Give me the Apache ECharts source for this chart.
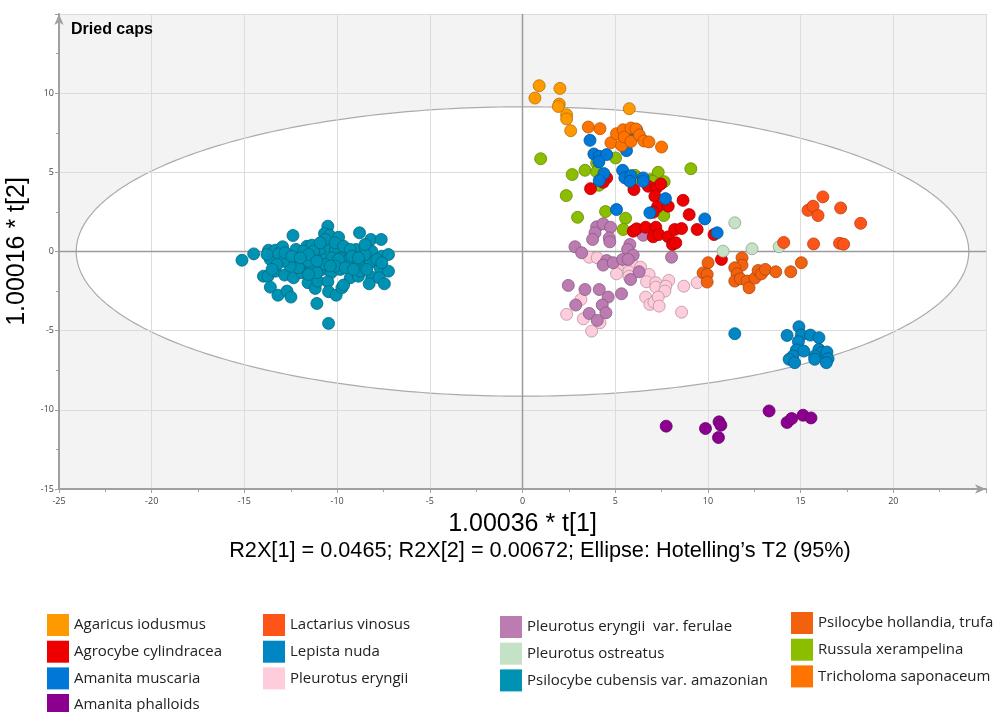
<!DOCTYPE html>
<html>
<head>
<meta charset="utf-8">
<script src="https://cdn.jsdelivr.net/npm/echarts@6/dist/echarts.min.js"></script>
<style>
  html, body { margin: 0; padding: 0; background: #ffffff; }
  #chart { width: 996px; height: 712px; }
</style>
</head>
<body>
<div id="chart"></div>
<script>
// PCA score plot, dried caps: t[1] vs t[2] per species

// Axis ranges and tick step
const xRange = [-25, 25];
const yRange = [-15, 15];
const tickStep = 5;

// Hotelling's T2 (95%) ellipse semi-axes
const ellipseA = 24.07;
const ellipseB = 9.14;

// Scores [t1, t2] per species
const agaricusIodusmus = [
  [0.9, 10.47], [2.02, 10.3], [0.67, 9.69], [1.98, 9.31], [1.93, 9.16],
  [2.38, 8.64], [2.38, 8.37], [2.6, 7.63], [5.76, 9.02]
];
const agrocybeCylindracea = [
  [3.67, 3.97], [4.54, 4.65], [4.35, 4.37], [6.01, 3.91], [6.78, 4.12], [7.23, 4.02],
  [7.46, 4.27], [7.14, 3.49], [8.66, 3.23], [7.28, 2.82], [7.86, 2.86], [7.05, 2.48],
  [8.99, 2.33], [9.42, 1.39], [10.33, 1.07], [5.97, 1.28], [6.15, 1.43], [6.64, 1.53],
  [7.19, 1.53], [7.05, 0.93], [7.35, 1.07], [7.86, 0.93], [8.09, 0.44], [8.27, 0.55],
  [8.21, 1.39], [8.58, 1.45], [10.73, -0.5]
];
const amanitaMuscaria = [
  [3.64, 7.02], [6.15, 7.69], [5.97, 7.27], [3.85, 6.16], [4.14, 6.01], [4.54, 6.12],
  [4.12, 5.66], [5.61, 6.37], [4.39, 4.92], [4.14, 4.48], [5.4, 5.13], [5.52, 4.65],
  [5.85, 4.79], [5.79, 4.43], [6.51, 4.65], [6.51, 4.43], [7.71, 3.34], [6.87, 2.44],
  [5.07, 2.65], [9.83, 2.06], [10.5, 1.18]
];
const amanitaPhalloids = [
  [7.75, -11.03], [9.87, -11.18], [10.6, -10.76], [10.7, -10.97], [10.57, -11.75],
  [13.3, -10.07], [14.27, -10.8], [14.52, -10.55], [15.13, -10.34], [15.56, -10.51]
];
const lactariusVinosus = [
  [15.4, 2.6], [15.67, 2.86], [15.94, 2.27], [16.2, 3.45], [17.16, 2.75], [18.24, 1.78],
  [14.09, 0.57], [15.7, 0.48], [17.1, 0.52], [17.32, 0.46]
];
const lepistaNuda = [
  [11.45, -5.19], [14.27, -5.3], [14.91, -4.75], [15.04, -5.28], [15.53, -5.28],
  [15.99, -5.44], [14.88, -5.69], [14.77, -6.22], [15.17, -6.29], [14.59, -6.6],
  [14.38, -6.81], [14.68, -7.02], [15.99, -6.18], [16.12, -6.39], [15.76, -6.6],
  [15.76, -6.81], [16.42, -6.35], [16.48, -6.77], [16.39, -7.02]
];
const pleurotusEryngii = [
  [3.6, -0.36], [4.03, -0.4], [5.07, -1.41], [5.47, -0.82], [5.7, -0.82], [5.94, -0.82],
  [5.74, -1.28], [5.74, -1.56], [6.37, -0.99], [6.83, -1.45], [6.69, -1.91], [7.19, -1.97],
  [7.19, -2.25], [7.89, -1.83], [7.73, -2.19], [7.68, -2.5], [8.7, -2.19], [9.42, -1.97],
  [6.64, -2.88], [6.87, -3.34], [7.09, -3.2], [7.32, -2.88], [7.37, -3.45], [8.58, -3.83],
  [3.15, -3.03], [2.38, -3.97], [3.28, -4.25], [4.18, -4.5], [3.73, -5.03]
];
const pleurotusFerulae = [
  [4.0, 1.56], [4.35, 1.75], [4.75, 1.53], [3.91, 1.18], [3.78, 0.76], [4.68, 0.86],
  [4.71, 0.61], [2.83, 0.3], [3.19, -0.08], [5.79, 0.44], [5.67, 0.13], [5.97, -0.23],
  [6.51, 1.03], [8.04, -0.36], [4.54, -0.57], [4.35, -0.86], [4.89, -0.71], [5.4, -0.5],
  [5.7, -0.5], [6.29, -1.28], [5.83, -1.77], [2.47, -2.14], [3.37, -2.4], [4.14, -2.4],
  [5.34, -2.67], [4.62, -2.88], [2.87, -3.38], [4.3, -3.38], [3.6, -3.91], [4.5, -3.87],
  [4.03, -4.35]
];
const pleurotusOstreatus = [
  [11.45, 1.81], [10.82, 0.02], [12.38, 0.17], [13.84, 0.3]
];
const psilocybeCubensis = [
  [-15.13, -0.55], [-14.5, -0.15], [-12.38, 1.01], [-10.5, 1.6], [-10.68, 1.13], [-10.41, 1.03],
  [-9.92, 0.9], [-8.79, 1.18], [-8.18, 0.76], [-7.62, 0.76], [-13.7, 0.08], [-13.33, 0.08],
  [-12.94, 0.3], [-13.6, -0.5], [-13.16, -0.15], [-12.62, -0.4], [-12.22, 0.13], [-11.63, 0.33],
  [-11.36, 0.4], [-10.82, 0.33], [-10.91, 0.02], [-10.37, 0.23], [-10.1, 0.02], [-9.56, -0.15],
  [-8.97, 0.13], [-8.49, 0.23], [-8.13, 0.02], [-7.59, -0.3], [-7.23, -0.19], [-12.35, -0.71],
  [-11.9, -0.82], [-11.45, -0.71], [-11.18, -0.4], [-10.64, -0.5], [-10.28, -0.4], [-9.83, -0.4],
  [-9.47, -0.61], [-9.12, -0.4], [-8.66, -0.5], [-8.22, -0.71], [-7.68, -1.03], [-7.23, -1.24],
  [-13.97, -1.56], [-13.73, -1.56], [-13.33, -1.24], [-12.83, -1.49], [-12.35, -1.66], [-11.9, -1.34],
  [-11.36, -0.92], [-10.82, -1.13], [-10.32, -1.34], [-9.83, -1.13], [-9.29, -1.66], [-8.85, -1.56],
  [-8.13, -1.62], [-7.73, -1.66], [-8.27, -2.04], [-7.45, -2.04], [-13.6, -2.25], [-13.19, -2.76],
  [-12.7, -2.5], [-12.49, -2.88], [-11.57, -1.97], [-11.18, -2.33], [-11.04, -1.87], [-10.5, -1.91],
  [-10.46, -2.54], [-10.05, -2.76], [-9.74, -2.29], [-9.65, -2.12], [-11.09, -3.28], [-10.46, -4.54],
  [-11.54, -0.61], [-11.81, 0.02], [-11.27, 0.02], [-10.64, 0.76], [-10.91, 0.55], [-9.92, -0.5],
  [-9.2, -0.71], [-8.85, -0.82], [-8.76, -1.24], [-10.1, -0.92], [-9.56, -1.03], [-10.64, -0.82],
  [-11.09, -1.34], [-11.54, -1.45], [-12.08, -1.03], [-12.53, -0.92], [-12.89, -0.61], [-13.24, -0.82],
  [-13.51, -1.13], [-13.78, -0.19], [-12.8, -0.08], [-12.44, -0.3], [-10.1, 0.55], [-9.65, 0.33],
  [-9.29, 0.13], [-9.2, -0.3], [-8.49, -0.19], [-7.86, -0.5], [-7.59, -0.71], [-8.4, -1.13],
  [-9.12, -1.13], [-11.54, -0.19], [-11.09, -0.61], [-11.99, -0.4], [-10.37, -0.92], [-8.49, 0.44],
  [-8.85, -0.4]
];
const psilocybeHollandia = [
  [10.01, -0.71], [9.74, -1.35], [9.96, -1.45], [9.96, -1.93], [11.84, -0.4], [11.84, -0.86],
  [11.45, -1.03], [11.57, -1.41], [11.45, -1.87], [11.75, -1.72], [12.11, -1.87], [12.22, -2.29],
  [12.54, -1.68], [12.71, -1.2], [12.89, -1.41], [13.1, -1.13], [13.66, -1.28], [14.47, -1.28],
  [15.04, -0.71]
];
const russulaXerampelina = [
  [0.98, 5.86], [2.68, 4.86], [3.37, 5.13], [4.0, 5.59], [4.0, 5.03], [4.12, 4.18],
  [5.02, 5.91], [2.36, 3.53], [2.97, 2.16], [4.48, 2.52], [5.56, 2.1], [5.43, 1.39],
  [6.06, 4.81], [6.15, 4.65], [6.92, 4.54], [7.32, 5.0], [7.02, 4.43], [7.64, 4.41],
  [9.08, 5.23], [7.62, 2.27]
];
const tricholomaSaponaceum = [
  [3.55, 7.86], [4.18, 7.76], [4.77, 6.87], [5.07, 7.44], [5.34, 6.7], [5.43, 7.69],
  [5.49, 7.23], [5.85, 7.8], [6.12, 7.74], [5.85, 6.95], [6.3, 7.36], [6.55, 6.98],
  [6.82, 6.92], [7.5, 6.6]
];

// Species names, as laid out in the legend blocks
const legendBlocks = [
  ['Agaricus iodusmus', 'Agrocybe cylindracea', 'Amanita muscaria'],
  ['Amanita phalloids'],
  ['Lactarius vinosus', 'Lepista nuda', 'Pleurotus eryngii'],
  ['Pleurotus eryngii  var. ferulae', 'Pleurotus ostreatus', 'Psilocybe cubensis var. amazonian'],
  ['Psilocybe hollandia, trufa', 'Russula xerampelina', 'Tricholoma saponaceum']
];
const legendLefts = [47, 47, 263, 500, 791];
const legendTops = [614, 694, 614, 616, 612];

// Series in drawing order (later ones on top)
const speciesSeries = [
  { name: 'Pleurotus eryngii', color: '#FFCCDC', data: pleurotusEryngii },
  { name: 'Pleurotus eryngii  var. ferulae', color: '#BC7CB2', data: pleurotusFerulae },
  { name: 'Russula xerampelina', color: '#8CBE00', data: russulaXerampelina },
  { name: 'Agrocybe cylindracea', color: '#EE0000', data: agrocybeCylindracea },
  { name: 'Amanita muscaria', color: '#0078D7', data: amanitaMuscaria },
  { name: 'Tricholoma saponaceum', color: '#FF7300', data: tricholomaSaponaceum },
  { name: 'Agaricus iodusmus', color: '#FF9900', data: agaricusIodusmus },
  { name: 'Pleurotus ostreatus', color: '#C6E2C6', data: pleurotusOstreatus },
  { name: 'Psilocybe hollandia, trufa', color: '#F2610E', data: psilocybeHollandia },
  { name: 'Lactarius vinosus', color: '#FF5418', data: lactariusVinosus },
  { name: 'Lepista nuda', color: '#0086C2', data: lepistaNuda },
  { name: 'Amanita phalloids', color: '#8C0090', data: amanitaPhalloids },
  { name: 'Psilocybe cubensis var. amazonian', color: '#0092B2', data: psilocybeCubensis }
];

function darker(hex, f) {
  const n = parseInt(hex.slice(1), 16);
  const r = Math.round(((n >> 16) & 255) * f);
  const g = Math.round(((n >> 8) & 255) * f);
  const b = Math.round((n & 255) * f);
  return 'rgb(' + r + ',' + g + ',' + b + ')';
}

const chart = echarts.init(document.getElementById('chart'));

// Grey plot background with the white confidence ellipse
const ellipseSeries = {
  type: 'custom',
  silent: true,
  z: 0,
  data: [[0, 0]],
  renderItem: function (params, api) {
    const tl = api.coord([xRange[0], yRange[1]]);
    const br = api.coord([xRange[1], yRange[0]]);
    const pts = [];
    for (let i = 0; i < 360; i++) {
      const t = i / 360 * Math.PI * 2;
      pts.push(api.coord([ellipseA * Math.cos(t), ellipseB * Math.sin(t)]));
    }
    return {
      type: 'group',
      children: [
        { type: 'rect', shape: { x: tl[0], y: tl[1], width: br[0] - tl[0], height: br[1] - tl[1] },
          style: { fill: '#F3F3F3' } },
        { type: 'polygon', shape: { points: pts },
          style: { fill: '#FFFFFF', stroke: '#ABABAB', lineWidth: 1.2 } }
      ]
    };
  }
};

// Zero lines through the origin
const zeroLineSeries = {
  type: 'custom',
  silent: true,
  z: 1.5,
  data: [[0, 0]],
  renderItem: function (params, api) {
    const a = api.coord([xRange[0], 0]), b = api.coord([xRange[1], 0]);
    const c = api.coord([0, yRange[0]]), d = api.coord([0, yRange[1]]);
    const st = { stroke: '#9A9A9A', lineWidth: 1.5 };
    return {
      type: 'group',
      children: [
        { type: 'line', shape: { x1: a[0], y1: a[1], x2: b[0], y2: b[1] }, style: st },
        { type: 'line', shape: { x1: c[0], y1: c[1], x2: d[0], y2: d[1] }, style: st }
      ]
    };
  }
};

const scatterSeries = speciesSeries.map(function (s) {
  return {
    type: 'scatter',
    name: s.name,
    data: s.data,
    symbol: 'circle',
    symbolSize: 12,
    z: 2,
    itemStyle: { color: s.color, borderColor: darker(s.color, 0.72), borderWidth: 0.8, opacity: 1 },
    emphasis: { disabled: true }
  };
});

const legends = legendBlocks.map(function (block, i) {
  return {
    data: block.map(function (n) { return { name: n, icon: 'rect' }; }),
    orient: 'vertical',
    left: legendLefts[i],
    top: legendTops[i],
    itemWidth: 22,
    itemHeight: 22,
    itemGap: 4.7,
    padding: 0,
    selectedMode: false,
    textStyle: { fontFamily: 'Open Sans', fontSize: 15, color: '#222222' },
    itemStyle: { borderWidth: 0 }
  };
});

const axisCommon = {
  type: 'value',
  interval: tickStep,
  splitNumber: 10,
  z: 1,
  axisLine: { onZero: false, show: true, symbol: ['none', 'arrow'], symbolSize: [7, 11],
              lineStyle: { color: '#A0A0A0', width: 2 } },
  axisTick: { show: true, length: 4, lineStyle: { color: '#A0A0A0' } },
  minorTick: { show: true, splitNumber: 2, length: 3, lineStyle: { color: '#A0A0A0' } },
  splitLine: { show: true, lineStyle: { color: '#DCDCDC', width: 1 } },
  axisLabel: { showMaxLabel: false, fontFamily: 'Open Sans', fontSize: 9, color: '#444444' }
};

chart.setOption({
  animation: false,
  backgroundColor: '#FFFFFF',
  grid: { left: 59, right: 10, top: 14, bottom: 223, show: false, outerBoundsMode: 'none', containLabel: false },
  title: {
    text: 'Dried caps',
    left: 66,
    top: 17,
    textStyle: { fontFamily: 'Liberation Sans', fontSize: 16, fontWeight: 'bold', color: '#000000' }
  },
  legend: legends,
  xAxis: Object.assign({}, axisCommon, {
    min: xRange[0], max: xRange[1],
    name: '1.00036 * t[1]',
    nameLocation: 'middle',
    nameGap: 23,
    nameTextStyle: { fontFamily: 'Liberation Sans', fontSize: 25, color: '#000000' },
    axisLabel: Object.assign({}, axisCommon.axisLabel, { margin: 8 })
  }),
  yAxis: Object.assign({}, axisCommon, {
    min: yRange[0], max: yRange[1],
    name: '1.00016 * t[2]',
    nameLocation: 'middle',
    nameGap: 23,
    nameTextStyle: { fontFamily: 'Liberation Sans', fontSize: 25, color: '#000000' },
    axisLabel: Object.assign({}, axisCommon.axisLabel, { margin: 5 })
  }),
  graphic: [{
    type: 'text',
    x: 540,
    y: 551,
    style: {
      text: 'R2X[1] = 0.0465; R2X[2] = 0.00672; Ellipse: Hotelling\u2019s T2 (95%)',
      font: '21.7px "Liberation Sans"',
      fill: '#000000',
      textAlign: 'center',
      textVerticalAlign: 'middle'
    }
  }],
  series: [ellipseSeries, zeroLineSeries].concat(scatterSeries)
});
</script>
</body>
</html>
